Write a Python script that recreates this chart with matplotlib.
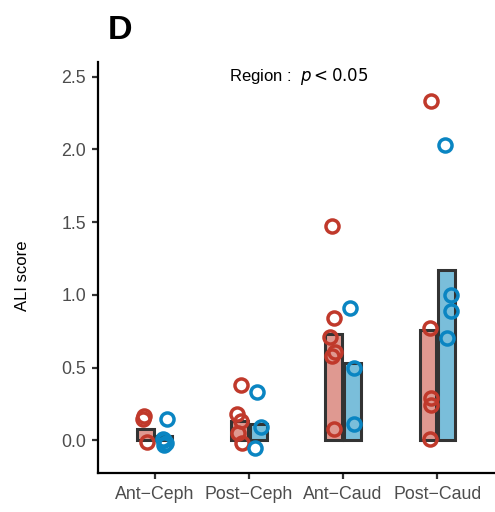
import numpy as np
import matplotlib
matplotlib.use("Agg")
import matplotlib.pyplot as plt

plt.rcParams['font.family'] = ['Liberation Sans', 'DejaVu Sans']

# categories on the x axis
regions = ['Ant\u2212Ceph', 'Post\u2212Ceph', 'Ant\u2212Caud', 'Post\u2212Caud']

# group means (bar heights)
bar_red = [0.08, 0.13, 0.73, 0.76]
bar_blue = [0.03, 0.11, 0.53, 1.17]

# individual ALI scores per region
red_vals = [
    [0.17, 0.15, -0.01],
    [0.38, 0.18, 0.13, 0.05, -0.02],
    [1.47, 0.84, 0.71, 0.61, 0.58, 0.08],
    [2.33, 0.77, 0.29, 0.24, 0.01],
]
blue_vals = [
    [0.15, 0.01, 0.00, -0.02, -0.03],
    [0.33, 0.09, -0.05],
    [0.91, 0.50, 0.11],
    [2.03, 1.00, 0.89, 0.70],
]
# horizontal jitter of each point
red_jit = [
    [-0.015, -0.02, 0.02],
    [0.02, -0.03, 0.02, -0.01, 0.03],
    [-0.02, 0.0, -0.04, 0.01, -0.02, 0.0],
    [0.03, 0.02, 0.03, 0.03, 0.02],
]
blue_jit = [
    [0.03, -0.01, 0.0, 0.02, 0.0],
    [-0.01, 0.03, -0.03],
    [-0.03, 0.01, 0.01],
    [-0.02, 0.04, 0.04, 0.0],
]

red_line = '#C0392B'
blue_line = '#0A85C2'
red_fill = '#DF9991'
blue_fill = '#7ABEDA'

fig = plt.figure(figsize=(4.95, 5.12), dpi=100)
ax = fig.add_axes([0.198, 0.076, 0.80, 0.803])

x = np.arange(1, len(regions) + 1)
dodge = 0.1
bw = 0.18

ax.bar(x - dodge, bar_red, width=bw, color=red_fill, edgecolor='#333333', linewidth=2.2, zorder=2)
ax.bar(x + dodge, bar_blue, width=bw, color=blue_fill, edgecolor='#333333', linewidth=2.2, zorder=2)

for i in range(len(regions)):
    xr = x[i] - dodge + np.array(red_jit[i])
    xb = x[i] + dodge + np.array(blue_jit[i])
    ax.plot(xr, red_vals[i], 'o', mfc='none', mec=red_line, mew=2.5, ms=9.4, zorder=3)
    ax.plot(xb, blue_vals[i], 'o', mfc='none', mec=blue_line, mew=2.5, ms=9.4, zorder=3)

ax.set_xlim(0.4, 4.6)
ax.set_ylim(-0.225, 2.6)
ax.set_xticks(x)
ax.set_xticklabels(regions)
ax.set_yticks([0.0, 0.5, 1.0, 1.5, 2.0, 2.5])
ax.set_yticklabels(['0.0', '0.5', '1.0', '1.5', '2.0', '2.5'])
ax.tick_params(axis='both', colors='#333333', labelcolor='#4D4D4D', labelsize=12.8,
               length=4.5, width=1.6)
ax.tick_params(axis='x', pad=5)
ax.tick_params(axis='y', pad=4)

for side in ['top', 'right']:
    ax.spines[side].set_visible(False)
for side in ['left', 'bottom']:
    ax.spines[side].set_linewidth(1.6)
    ax.spines[side].set_color('black')

ax.set_ylabel('ALI score', fontsize=12)
ax.yaxis.set_label_coords(-0.172, 0.48)

ax.text(2.53, 2.5, r'Region :  $p < 0.05$', ha='center', va='center', fontsize=12)

fig.text(108 / 495, 1 - 39 / 512, 'D', fontsize=24.5, fontweight='bold', ha='left', va='baseline')

fig.savefig('out.png', dpi=100)
